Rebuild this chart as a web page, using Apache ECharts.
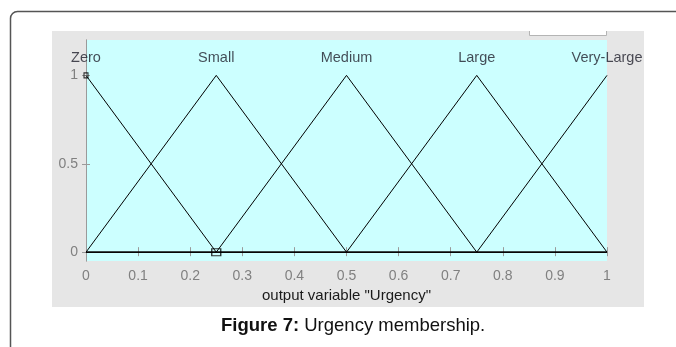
<!DOCTYPE html>
<html>
<head>
<meta charset="utf-8">
<title>Urgency membership</title>
<script src="https://cdn.jsdelivr.net/npm/echarts@6/dist/echarts.min.js"></script>
<style>
  html, body { margin: 0; padding: 0; background: #ffffff; }
  #chart { width: 676px; height: 347px; }
</style>
</head>
<body>
<div id="chart"></div>
<script>
// Membership functions of the output variable "Urgency" (triangular, [a, b, c])
var mfNames = ['Zero', 'Small', 'Medium', 'Large', 'Very-Large'];
var mfParams = [
  [-0.25, 0, 0.25],
  [0, 0.25, 0.5],
  [0.25, 0.5, 0.75],
  [0.5, 0.75, 1],
  [0.75, 1, 1.25]
];
var xRange = [0, 1];
var xTickLabels = ['0', '0.1', '0.2', '0.3', '0.4', '0.5', '0.6', '0.7', '0.8', '0.9', '1'];
var yTickValues = [0, 0.5, 1];
var yTickLabels = ['0', '0.5', '1'];
var mfLabelHeight = 1.1;
var selectedMarks = [[0, 1], [0.25, 0]];

// triangular membership value
function trimf(x, p) {
  var a = p[0], b = p[1], c = p[2];
  if (x <= a || x >= c) return (x === b) ? 1 : 0;
  if (x <= b) return (b === a) ? 1 : (x - a) / (b - a);
  return (c === b) ? 1 : (c - x) / (c - b);
}

// corner points of each triangle, clipped to the variable's range
function mfPoints(p) {
  var xs = [xRange[0], p[0], p[1], p[2], xRange[1]].filter(function (x) {
    return x >= xRange[0] && x <= xRange[1];
  });
  xs = xs.filter(function (x, i) { return xs.indexOf(x) === i; }).sort(function (u, v) { return u - v; });
  return xs.map(function (x) { return [x, trimf(x, p)]; });
}

var axisGray = '#9a9a9a';
var labelGray = '#808080';
var font = '"Liberation Sans", Arial, sans-serif';

var series = mfParams.map(function (p, i) {
  return {
    type: 'line',
    name: mfNames[i],
    data: mfPoints(p),
    symbol: 'none',
    lineStyle: { color: '#000000', width: 1 },
    animation: false,
    z: 3
  };
});

// names above each peak
series.push({
  type: 'scatter',
  data: mfParams.map(function (p, i) { return { value: [p[1], mfLabelHeight], name: mfNames[i] }; }),
  symbolSize: 0,
  label: {
    show: true,
    position: 'inside',
    formatter: function (d) { return d.name; },
    color: '#1e1e2a',
    fontSize: 14.5,
    fontFamily: font
  },
  silent: true,
  animation: false,
  z: 4
});

// square handles on the selected function
series.push({
  type: 'scatter',
  data: selectedMarks,
  symbol: 'rect',
  symbolSize: function (v) { return v[1] === 0 ? [9, 7] : [4, 5]; },
  itemStyle: { color: 'rgba(0,0,0,0)', borderColor: '#000000', borderWidth: 1.2 },
  silent: true,
  animation: false,
  z: 5
});

var chart = echarts.init(document.getElementById('chart'), null, { renderer: 'canvas' });

chart.setOption({
  animation: false,
  graphic: [
    {
      type: 'rect',
      shape: { x: 10.5, y: 11.5, width: 700, height: 400, r: 7 },
      style: { fill: '#ffffff', stroke: '#555555', lineWidth: 1.5 },
      z: -10
    },
    {
      type: 'rect',
      shape: { x: 52, y: 31, width: 592, height: 276 },
      style: { fill: '#e6e6e6' },
      z: -9
    },
    {
      type: 'rect',
      shape: { x: 529, y: 31, width: 78, height: 4 },
      style: { fill: '#ffffff' },
      z: -8
    },
    {
      type: 'polyline',
      shape: { points: [[529.5, 31], [529.5, 35.5], [606.5, 35.5], [606.5, 31]] },
      style: { stroke: '#b4b4b4', lineWidth: 1, fill: null },
      z: -7
    },
    {
      type: 'text',
      left: 221,
      top: 316,
      style: {
        text: '{b|Figure 7:} Urgency membership.',
        fill: '#111111',
        font: '18.5px ' + font,
        rich: {
          b: { fontWeight: 'bold', fontSize: 18.5, fontFamily: font, fill: '#111111' }
        }
      }
    }
  ],
  grid: {
    left: 86,
    right: 69,
    top: 40,
    bottom: 86,
    show: true,
    backgroundColor: '#ccffff',
    borderWidth: 0
  },
  xAxis: [
    {
      type: 'value',
      position: 'bottom',
      min: xRange[0],
      max: xRange[1],
      interval: 0.1,
      name: 'output variable "Urgency"',
      nameLocation: 'middle',
      nameGap: 27,
      nameTextStyle: { color: '#1a1a1a', fontSize: 15, fontFamily: font },
      axisLine: { show: true, lineStyle: { color: axisGray, width: 1 } },
      axisTick: { show: true, inside: true, length: 5, lineStyle: { color: axisGray } },
      axisLabel: {
        color: labelGray,
        fontSize: 14,
        fontFamily: font,
        margin: 8,
        formatter: function (v, i) { return xTickLabels[i]; }
      },
      splitLine: { show: false }
    },
    {
      type: 'value',
      position: 'top',
      min: xRange[0],
      max: xRange[1],
      interval: 0.1,
      axisLine: { show: true, lineStyle: { color: axisGray, width: 1 } },
      axisTick: { show: true, inside: true, length: 4, lineStyle: { color: axisGray } },
      axisLabel: { show: false },
      splitLine: { show: false }
    }
  ],
  yAxis: [
    {
      type: 'value',
      position: 'left',
      min: -0.05,
      max: 1.2,
      axisLine: { show: true, lineStyle: { color: axisGray, width: 1 } },
      axisTick: { show: true, inside: true, length: 4, customValues: yTickValues, lineStyle: { color: axisGray } },
      axisLabel: {
        color: labelGray,
        fontSize: 14,
        fontFamily: font,
        margin: 8,
        customValues: yTickValues,
        formatter: function (v) { return yTickLabels[yTickValues.indexOf(v)]; }
      },
      splitLine: { show: false }
    },
    {
      type: 'value',
      position: 'right',
      min: -0.05,
      max: 1.2,
      axisLine: { show: true, lineStyle: { color: axisGray, width: 1 } },
      axisTick: { show: true, inside: true, length: 4, customValues: yTickValues, lineStyle: { color: axisGray } },
      axisLabel: { show: false, customValues: yTickValues },
      splitLine: { show: false }
    }
  ],
  series: series
});
</script>
</body>
</html>
